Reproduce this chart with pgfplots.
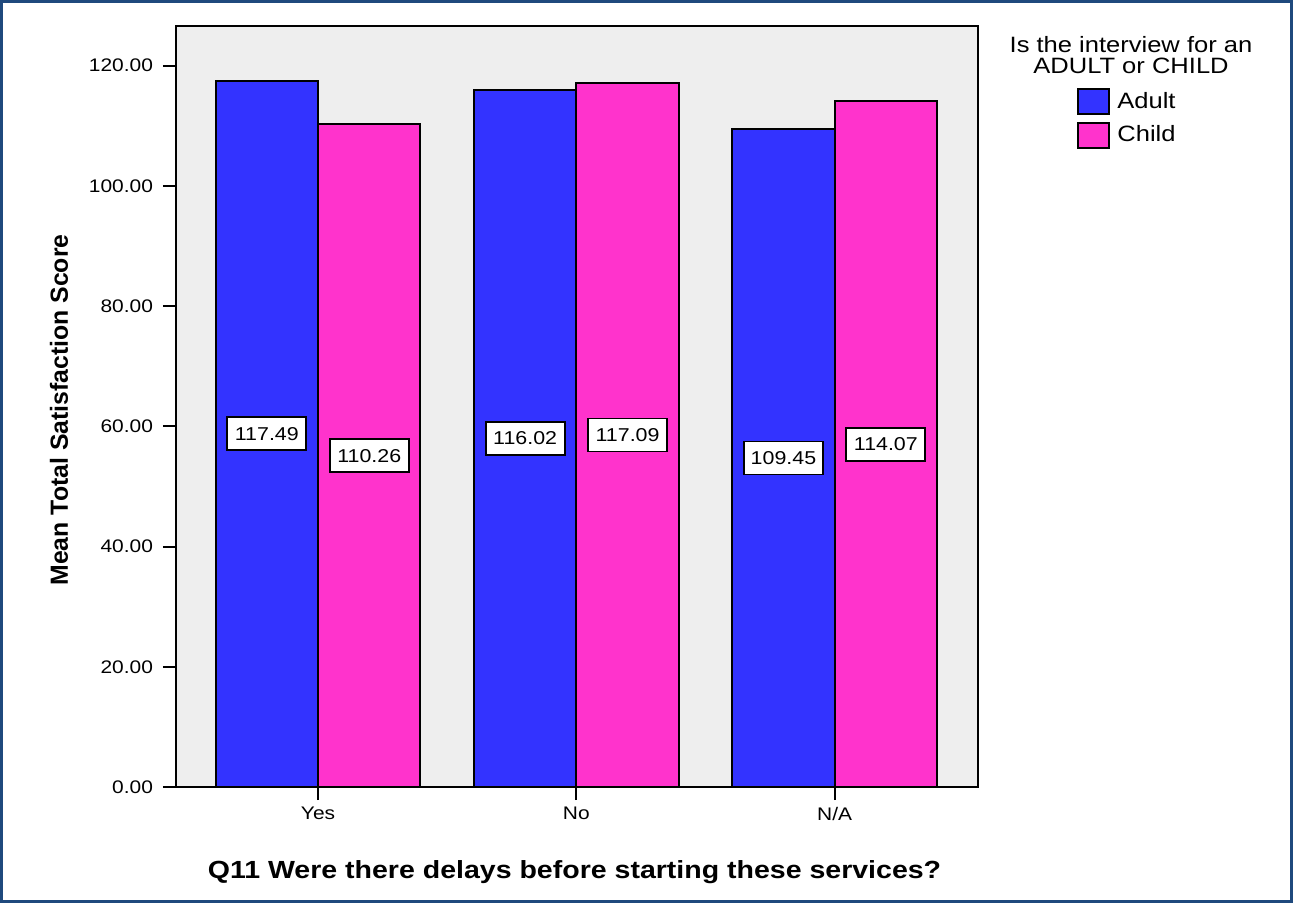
\documentclass[border=0pt]{standalone}
\usepackage{fontspec}
\setmainfont{Liberation Sans}[FakeStretch=1.15]
\newfontfamily\ylabfont{Liberation Sans}
\usepackage{pgfplots}
\pgfplotsset{compat=1.18}
\definecolor{barblue}{HTML}{3333FF}
\definecolor{barpink}{HTML}{FF33CC}
\definecolor{plotbg}{HTML}{EEEEEE}
\definecolor{framecol}{HTML}{1F497D}
\begin{document}
\begin{tikzpicture}
\path[use as bounding box] (0,0) rectangle (646.5pt,451.5pt);
\draw[framecol, line width=1.5pt] (0.75pt,0.75pt) rectangle (645.75pt,450.75pt);
\node[anchor=base, font=\fontsize{11.1}{13}\selectfont, inner sep=0pt] at (565.5pt,425pt) {Is the interview for an};
\node[anchor=base, font=\fontsize{11.1}{13}\selectfont, inner sep=0pt] at (565.5pt,414.5pt) {ADULT or CHILD};
\begin{axis}[
  at={(88pt,58pt)}, anchor=south west,
  scale only axis, width=401pt, height=380.5pt,
  xmin=-0.55, xmax=2.555, ymin=0, ymax=126.6,
  axis background/.style={fill=plotbg},
  axis line style={line width=1pt, black},
  xtick={0,1,2}, xticklabels={Yes,No,N/A},
  ytick={0,20,...,120},
  yticklabel style={/pgf/number format/fixed, /pgf/number format/fixed zerofill,
    /pgf/number format/precision=2, /pgf/number format/assume math mode=true, /tikz/xshift=-1.5pt},
  tick align=outside, tick pos=left,
  tick style={black, line width=1pt},
  major tick length=6.5pt,
  ticklabel style={font=\fontsize{9.1}{11}\selectfont},
  xlabel={\bfseries Q11 Were there delays before starting these services?},
  xlabel style={at={(axis description cs:0.4969,0)}, anchor=base, yshift=-45.5pt, font=\fontsize{12.4}{14}\selectfont},
  ylabel={\ylabfont\bfseries Mean Total Satisfaction Score},
  ylabel style={at={(axis description cs:-0.1459,0.4954)}, anchor=center, font=\fontsize{12.4}{14}\selectfont},
  legend style={at={(1.1234,0.9185)}, anchor=north west, draw=none, fill=none, inner sep=0pt,
    font=\fontsize{11.1}{13}\selectfont, row sep=3pt},
  legend cell align=left,
  legend image code/.code={\draw[#1,/tikz/.cd] (0pt,-6.25pt) rectangle (15.5pt,6.25pt);},
]
\addplot[ybar, bar width=0.3965, bar shift=-0.19825, fill=barblue, draw=black, line width=1pt]
  coordinates {(0,117.49) (1,116.02) (2,109.45)};
\addlegendentry{\hspace{1.5pt}Adult}
\addplot[ybar, bar width=0.3965, bar shift=0.19825, fill=barpink, draw=black, line width=1pt]
  coordinates {(0,110.26) (1,117.09) (2,114.07)};
\addlegendentry{\hspace{1.5pt}Child}
\addplot[forget plot, draw=none, mark=none, nodes near coords, nodes near coords align=center,
  point meta=explicit symbolic,
  every node near coord/.style={anchor=center, draw=black, fill=white, line width=0.9pt,
    minimum width=39.5pt, minimum height=16.5pt, inner sep=0pt, font=\fontsize{9.3}{11}\selectfont}]
  coordinates {(-0.19825,58.745) [117.49] (0.19825,55.13) [110.26]
               (0.80175,58.01) [116.02] (1.19825,58.545) [117.09]
               (1.80175,54.725) [109.45] (2.19825,57.035) [114.07]};
\end{axis}
\end{tikzpicture}
\end{document}
